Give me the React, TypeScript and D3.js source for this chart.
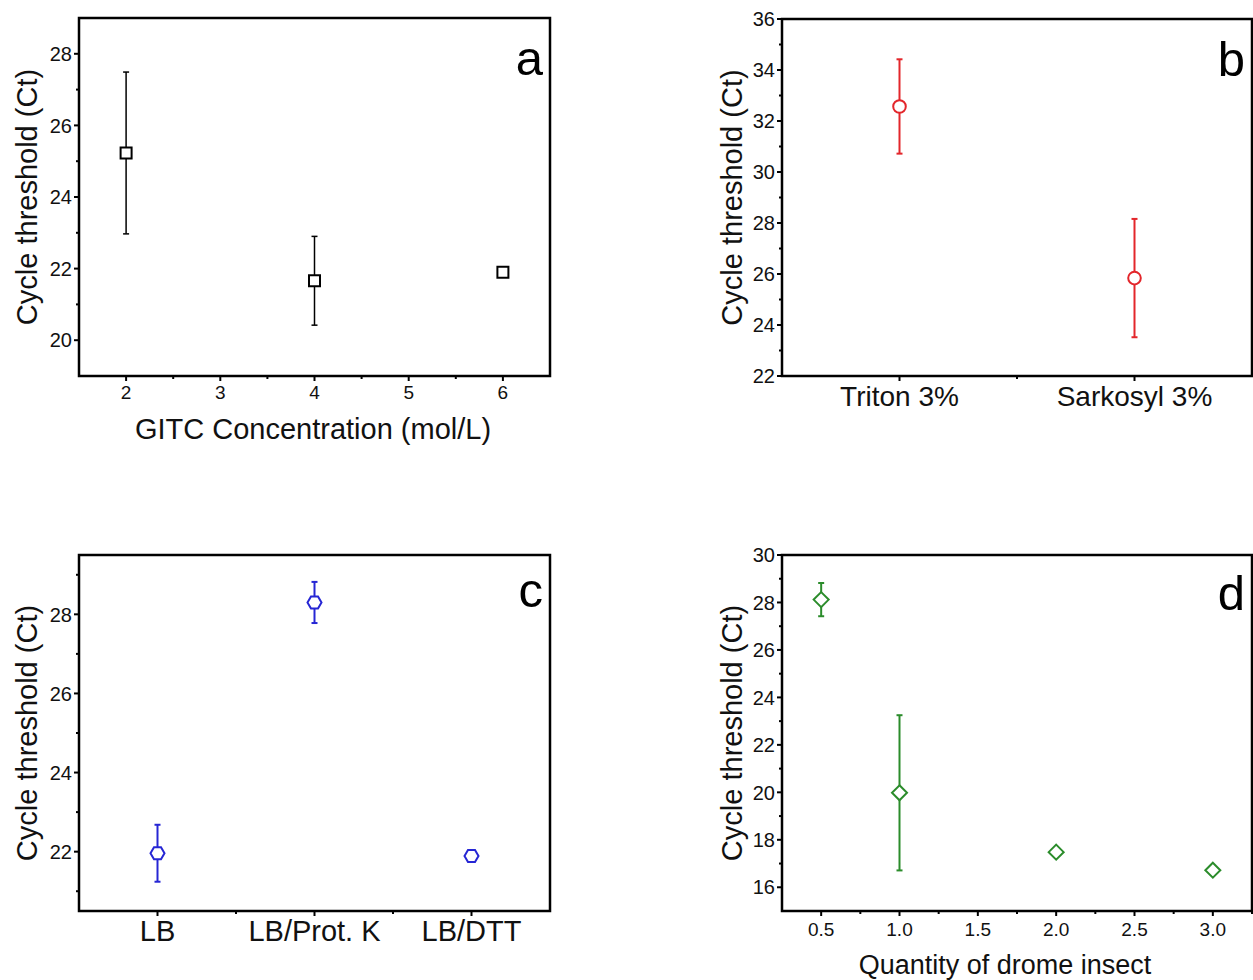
import * as d3 from "d3"

// a: GITC concentration
const gitcConc = [2, 4, 6]
const gitcCt = [25.23, 21.66, 21.9]
const gitcErr = [2.26, 1.24, 0.08]

// b: detergents
const detergents = ["Triton 3%", "Sarkosyl 3%"]
const detergentCt = [32.57, 25.84]
const detergentErr = [1.85, 2.32]

// c: lysis buffers
const buffers = ["LB", "LB/Prot. K", "LB/DTT"]
const bufferCt = [21.96, 28.3, 21.89]
const bufferErr = [0.72, 0.52, 0.1]

// d: quantity of insects
const insectQty = [0.5, 1.0, 2.0, 3.0]
const insectCt = [28.12, 19.98, 17.48, 16.72]
const insectErr = [0.7, 3.27, 0.12, 0.08]

const FONT = "'Liberation Sans', Arial, Helvetica, sans-serif"
const yTitle = "Cycle threshold (Ct)"

const markerPath = (type: string) => {
  if (type === "square") return "M-5.5,-5.5H5.5V5.5H-5.5Z"
  if (type === "circle") return d3.symbol(d3.symbolCircle, Math.PI * 6.3 * 6.3)()
  if (type === "hexagon") {
    const r = 7
    const pts = d3.range(6).map((i) => [r * Math.cos((i * Math.PI) / 3), r * Math.sin((i * Math.PI) / 3)])
    return "M" + pts.map((p) => p.join(",")).join("L") + "Z"
  }
  const r = 7.5
  return `M0,${-r}L${r},0L0,${r}L${-r},0Z`
}

type PanelProps = {
  left: number
  right: number
  top: number
  bottom: number
  xDomain: [number, number]
  yDomain: [number, number]
  xMajor: number[]
  xMinor: number[]
  yMajor: number[]
  yMinor: number[]
  xLabels: string[]
  xLabelSize: number
  xLabelOffset: number
  xs: number[]
  ys: number[]
  errs: number[]
  color: string
  marker: string
  letter: string
  letterBaseline: number
  yTitleX: number
  xTitle?: string
  xTitleX?: number
  xTitleY?: number
  xTitleSize?: number
}

function Panel(p: PanelProps) {
  const x = d3.scaleLinear().domain(p.xDomain).range([p.left, p.right])
  const y = d3.scaleLinear().domain(p.yDomain).range([p.bottom, p.top])
  const midY = (p.top + p.bottom) / 2
  return (
    <g>
      {/* ticks */}
      {p.yMajor.map((v) => (
        <g key={"ym" + v}>
          <line x1={p.left - 5} x2={p.left} y1={y(v)} y2={y(v)} stroke="#000" strokeWidth={2} />
          <text x={p.left - 7} y={y(v)} dy="0.36em" textAnchor="end" fontSize={20} fill="#111">
            {v}
          </text>
        </g>
      ))}
      {p.yMinor.map((v) => (
        <line key={"yn" + v} x1={p.left - 3} x2={p.left} y1={y(v)} y2={y(v)} stroke="#000" strokeWidth={2} />
      ))}
      {p.xMajor.map((v, i) => (
        <g key={"xm" + v}>
          <line x1={x(v)} x2={x(v)} y1={p.bottom} y2={p.bottom + 5} stroke="#000" strokeWidth={2} />
          <text x={x(v)} y={p.bottom + p.xLabelOffset} textAnchor="middle" fontSize={p.xLabelSize} fill="#111">
            {p.xLabels[i]}
          </text>
        </g>
      ))}
      {p.xMinor.map((v) => (
        <line key={"xn" + v} x1={x(v)} x2={x(v)} y1={p.bottom} y2={p.bottom + 3} stroke="#000" strokeWidth={2} />
      ))}
      {/* frame */}
      <rect
        x={p.left}
        y={p.top}
        width={p.right - p.left}
        height={p.bottom - p.top}
        fill="none"
        stroke="#000"
        strokeWidth={2.5}
      />
      {/* error bars */}
      {p.xs.map((v, i) => {
        const cx = x(v)
        const y1 = y(p.ys[i] + p.errs[i])
        const y2 = y(p.ys[i] - p.errs[i])
        return (
          <g key={"e" + i} stroke={p.color} strokeWidth={p.color === "#000" ? 1.5 : 2}>
            <line x1={cx} x2={cx} y1={y1} y2={y2} />
            <line x1={cx - 3} x2={cx + 3} y1={y1} y2={y1} />
            <line x1={cx - 3} x2={cx + 3} y1={y2} y2={y2} />
          </g>
        )
      })}
      {/* markers */}
      {p.xs.map((v, i) => (
        <path
          key={"m" + i}
          d={markerPath(p.marker) as string}
          transform={`translate(${x(v)},${y(p.ys[i])})`}
          fill="#fff"
          stroke={p.color}
          strokeWidth={2}
        />
      ))}
      <text x={p.right - 7} y={p.letterBaseline} textAnchor="end" fontSize={49} fill="#000">
        {p.letter}
      </text>
      <text transform={`translate(${p.yTitleX},${midY}) rotate(-90)`} textAnchor="middle" fontSize={29} fill="#111">
        {yTitle}
      </text>
      {p.xTitle && (
        <text x={p.xTitleX} y={p.xTitleY} textAnchor="middle" fontSize={p.xTitleSize} fill="#111">
          {p.xTitle}
        </text>
      )}
    </g>
  )
}

export default function App() {
  const fmt1 = d3.format(".1f")
  const quantTicks = d3.range(0.5, 3.01, 0.5)
  return (
    <svg
      width={1253}
      height={980}
      style={{ position: "absolute", left: 0, top: 0, background: "#fff" }}
      fontFamily={FONT}
    >
      <rect width={1253} height={980} fill="#fff" />
      <Panel
        left={79}
        right={550}
        top={18}
        bottom={376}
        xDomain={[1.5, 6.5]}
        yDomain={[19, 29]}
        xMajor={d3.range(2, 7)}
        xMinor={d3.range(2.5, 6, 1)}
        yMajor={d3.range(20, 29, 2)}
        yMinor={d3.range(21, 29, 2)}
        xLabels={d3.range(2, 7).map(String)}
        xLabelSize={19}
        xLabelOffset={23}
        xs={gitcConc}
        ys={gitcCt}
        errs={gitcErr}
        color="#000"
        marker="square"
        letter="a"
        letterBaseline={75}
        yTitleX={37}
        xTitle="GITC Concentration (mol/L)"
        xTitleX={313}
        xTitleY={439}
        xTitleSize={29}
      />
      <Panel
        left={782}
        right={1252}
        top={19}
        bottom={376}
        xDomain={[0.5, 2.5]}
        yDomain={[22, 36]}
        xMajor={[1, 2]}
        xMinor={[1.5]}
        yMajor={d3.range(22, 37, 2)}
        yMinor={d3.range(23, 36, 2)}
        xLabels={detergents}
        xLabelSize={28}
        xLabelOffset={30}
        xs={[1, 2]}
        ys={detergentCt}
        errs={detergentErr}
        color="#e3262b"
        marker="circle"
        letter="b"
        letterBaseline={76}
        yTitleX={742}
      />
      <Panel
        left={79}
        right={550}
        top={555}
        bottom={911}
        xDomain={[0.5, 3.5]}
        yDomain={[20.5, 29.5]}
        xMajor={[1, 2, 3]}
        xMinor={[1.5, 2.5]}
        yMajor={d3.range(22, 29, 2)}
        yMinor={d3.range(21, 30, 2)}
        xLabels={buffers}
        xLabelSize={29}
        xLabelOffset={30}
        xs={[1, 2, 3]}
        ys={bufferCt}
        errs={bufferErr}
        color="#2626d4"
        marker="hexagon"
        letter="c"
        letterBaseline={607}
        yTitleX={37}
      />
      <Panel
        left={782}
        right={1252}
        top={555}
        bottom={911}
        xDomain={[0.25, 3.25]}
        yDomain={[15, 30]}
        xMajor={quantTicks}
        xMinor={d3.range(0.75, 3.3, 0.5)}
        yMajor={d3.range(16, 31, 2)}
        yMinor={d3.range(17, 30, 2)}
        xLabels={quantTicks.map((v) => fmt1(v))}
        xLabelSize={19}
        xLabelOffset={25}
        xs={insectQty}
        ys={insectCt}
        errs={insectErr}
        color="#2b8c2b"
        marker="diamond"
        letter="d"
        letterBaseline={610}
        yTitleX={742}
        xTitle="Quantity of drome insect"
        xTitleX={1005}
        xTitleY={974}
        xTitleSize={27}
      />
    </svg>
  )
}
